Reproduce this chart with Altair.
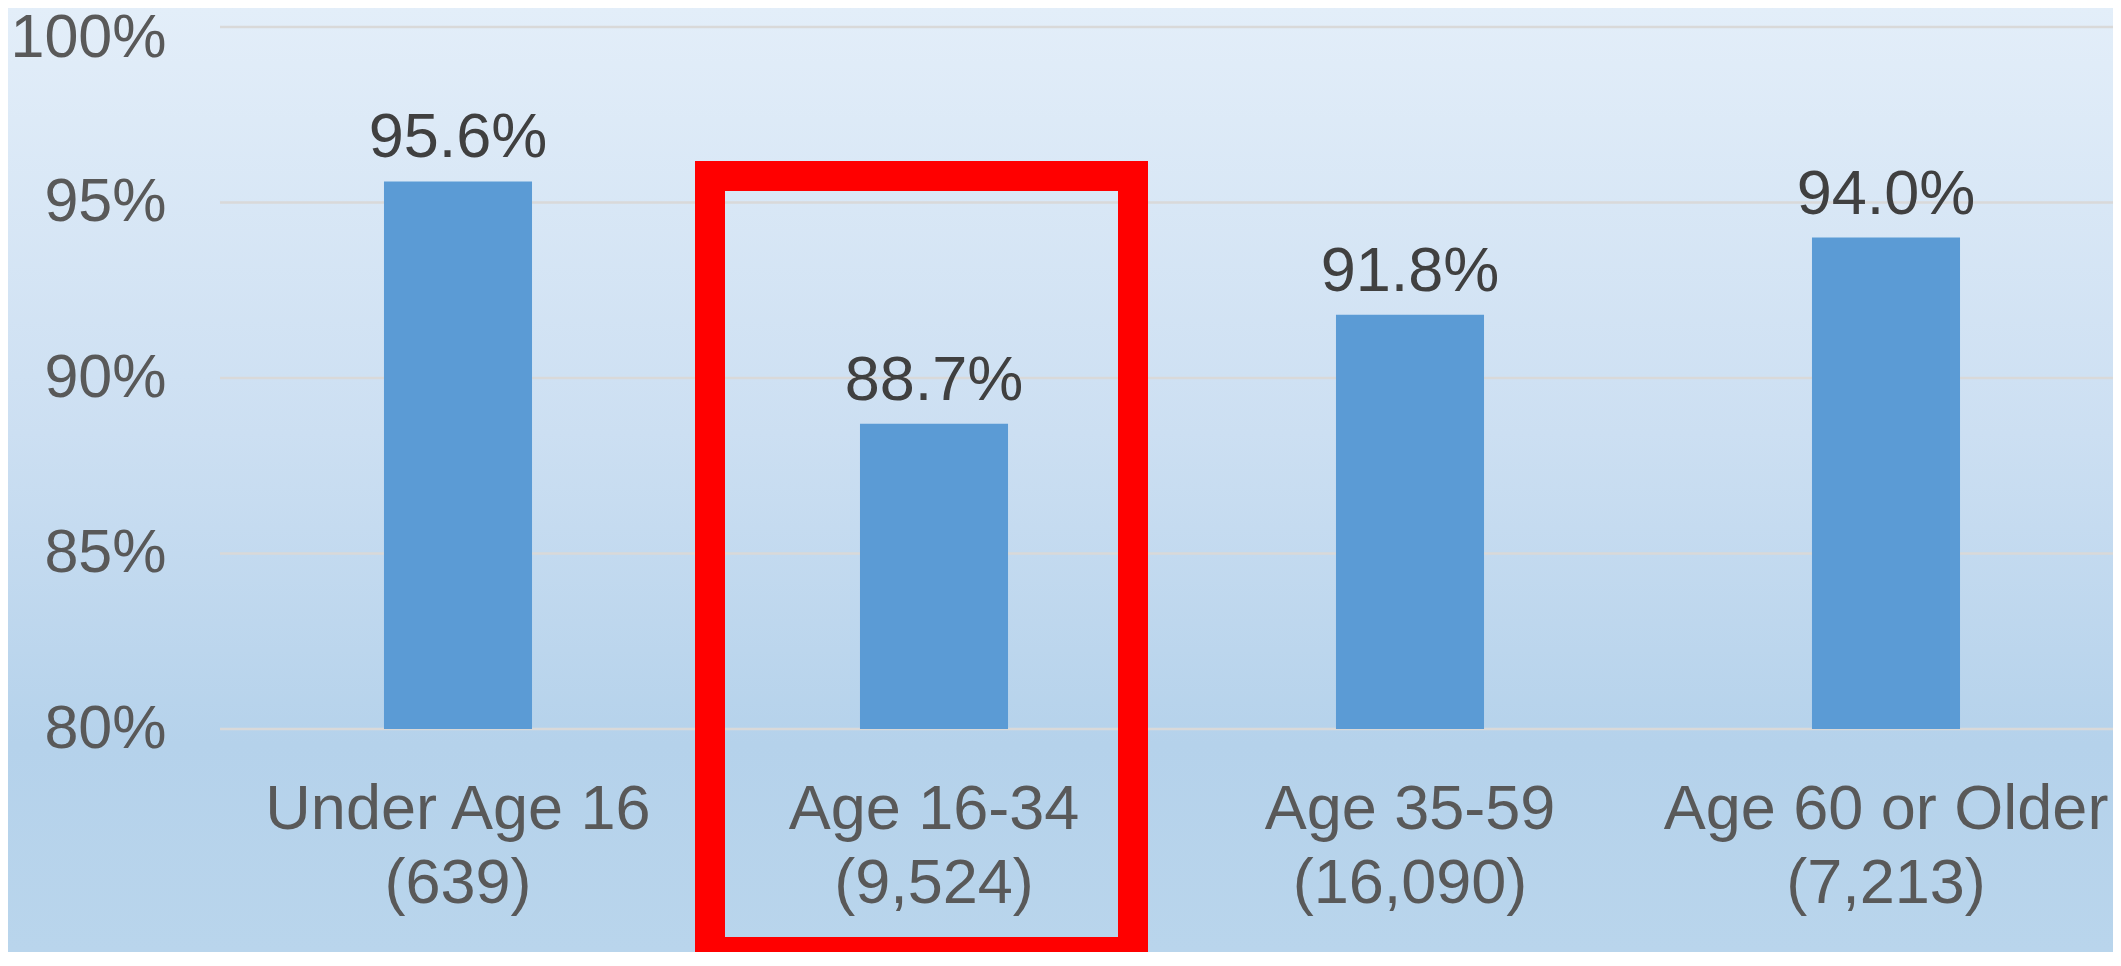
import altair as alt
import pandas as pd

# ---- data ----
categories = ["Under Age 16", "Age 16-34", "Age 35-59", "Age 60 or Older"]
counts = ["(639)", "(9,524)", "(16,090)", "(7,213)"]
rates = [95.6, 88.7, 91.8, 94.0]
rate_labels = ["95.6%", "88.7%", "91.8%", "94.0%"]
y_ticks = [80, 85, 90, 95, 100]

groups = [c + "|" + n for c, n in zip(categories, counts)]
df = pd.DataFrame({"group": groups, "rate": rates, "label": rate_labels})
ticks_df = pd.DataFrame({"tick": y_ticks})
one = pd.DataFrame({"a": [0]})

# ---- layout ----
W, H = 1893, 702
PL, PT, PB = 212, 19, 223
FONT = "Liberation Sans"

xscale = alt.Scale(domain=groups, range=[0, 1904], paddingInner=0.689, paddingOuter=0.3445)
yscale = alt.Scale(domain=[80, 100], nice=False, zero=False)

gradient = alt.LinearGradient(
    gradient="linear",
    stops=[
        alt.GradientStop(color="#E3EEF9", offset=0),
        alt.GradientStop(color="#CCDFF2", offset=0.45),
        alt.GradientStop(color="#B5D2EB", offset=0.78),
        alt.GradientStop(color="#B9D5EC", offset=1),
    ],
    x1=0, x2=0, y1=0, y2=1,
)

bg = alt.Chart(one).mark_rect(fill=gradient).encode(
    x=alt.value(-PL), x2=alt.value(W + 20), y=alt.value(-PT), y2=alt.value(H + PB)
)

grid = alt.Chart(ticks_df).mark_rule(color="#D9D9D9", strokeWidth=2.5).encode(
    y=alt.Y("tick:Q", scale=yscale), x=alt.value(0), x2=alt.value(W + 20)
)

bars = alt.Chart(df).mark_bar(color="#5B9BD5").encode(
    x=alt.X(
        "group:N",
        scale=xscale,
        sort=groups,
        axis=alt.Axis(
            title=None,
            labelExpr="split(datum.label, '|')",
            labelAngle=0,
            labelPadding=49,
            labelFontSize=63,
            labelLineHeight=74,
            labelColor="#595959",
            labelFont=FONT,
            labelLimit=0,
            domain=False,
            ticks=False,
            tickSize=0,
            grid=False,
            zindex=1,
        ),
    ),
    y=alt.Y(
        "rate:Q",
        scale=yscale,
        axis=alt.Axis(
            title=None,
            values=y_ticks,
            labelExpr="datum.value + '%'",
            labelPadding=54,
            labelFontSize=61,
            labelColor="#595959",
            labelFont=FONT,
            labelLimit=0,
            labelOffset={"condition": {"test": "datum.value == 100", "value": 11}, "value": 0},
            domain=False,
            ticks=False,
            tickSize=0,
            grid=False,
            zindex=1,
        ),
    ),
    y2=alt.datum(80),
)

text = alt.Chart(df).mark_text(
    font=FONT, fontSize=63, color="#404040", baseline="alphabetic", dy=-24
).encode(
    x=alt.X("group:N", scale=xscale, sort=groups),
    y=alt.Y("rate:Q", scale=yscale),
    text="label:N",
)

box = alt.Chart(one).mark_rect(
    fill="#FFFFFF", fillOpacity=0, stroke="#FF0000", strokeWidth=30
).encode(
    x=alt.value(490), x2=alt.value(913), y=alt.value(149), y2=alt.value(925)
)

chart = (
    alt.layer(bg, grid, bars, text, box)
    .properties(
        width=W,
        height=H,
        padding={"left": PL, "top": PT, "right": 0, "bottom": PB},
        autosize=alt.AutoSizeParams(type="none"),
        background="#E3EEF9",
    )
    .configure_view(stroke=None)
)

chart.save("out.html", embed_options={"renderer": "svg", "actions": False})
